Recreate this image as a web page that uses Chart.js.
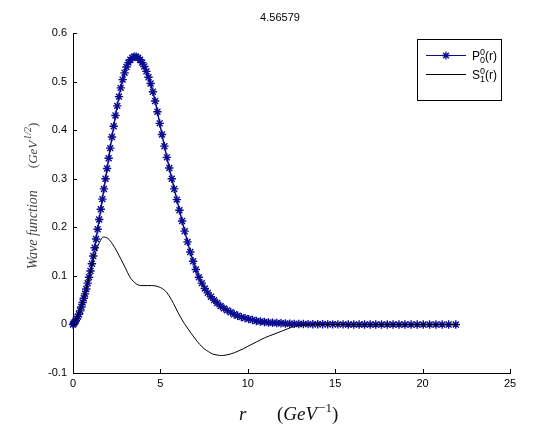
<!DOCTYPE html>
<html>
<head>
<meta charset="utf-8">
<script src="https://cdn.jsdelivr.net/npm/chart.js@4.4.0/dist/chart.umd.min.js"></script>
<style>
  html, body { margin: 0; padding: 0; background: #fff; }
  #wrap { width: 544px; height: 446px; }
</style>
</head>
<body>
<div id="wrap"><canvas id="waveChart" width="544" height="446"></canvas></div>
<script>
// r grid of the P wave function (markers)
const rP = [
    0, 0.05, 0.1, 0.16, 0.22, 0.28, 0.34, 0.41, 0.48, 0.55, 0.62, 0.69, 0.76, 0.84, 0.92, 1.0,
    1.08, 1.16, 1.24, 1.32, 1.41, 1.5, 1.59, 1.68, 1.77, 1.86, 1.95, 2.04,
    2.13, 2.23, 2.33, 2.43, 2.53, 2.63, 2.73, 2.84, 2.95, 3.06, 3.17, 3.28, 3.39, 3.5, 3.61,
    3.72, 3.84, 3.96, 4.08, 4.2, 4.32, 4.44, 4.57, 4.7, 4.83, 4.96, 5.09, 5.23, 5.37, 5.51,
    5.65, 5.79, 5.94, 6.09, 6.24, 6.39, 6.55, 6.71, 6.87, 7.03, 7.2, 7.37, 7.54, 7.71, 7.89,
    8.07, 8.25, 8.44, 8.63, 8.82, 9.02, 9.22, 9.42, 9.63, 9.84, 10.05, 10.27, 10.49, 10.72, 10.95,
    11.18, 11.42, 11.66, 11.9, 12.15, 12.4, 12.66, 12.92, 13.18, 13.45, 13.72, 14.0, 14.28, 14.57, 14.86,
    15.15, 15.45, 15.75, 16.06, 16.37, 16.68, 17.0, 17.32, 17.65, 17.98, 18.31, 18.65, 18.99, 19.34, 19.69,
    20.04, 20.4, 20.76, 21.12, 21.49, 21.9
];
const pValues = [
    0, 0.002, 0.005, 0.008, 0.012, 0.016, 0.021, 0.028, 0.036, 0.045, 0.054, 0.063, 0.073, 0.085, 0.097, 0.11,
    0.125, 0.141, 0.158, 0.176, 0.196, 0.216, 0.237, 0.258, 0.279, 0.3, 0.321, 0.342,
    0.363, 0.386, 0.408, 0.43, 0.45, 0.469, 0.487, 0.504, 0.518, 0.53, 0.539, 0.545, 0.549, 0.551, 0.551,
    0.549, 0.545, 0.539, 0.531, 0.521, 0.509, 0.496, 0.479, 0.46, 0.438, 0.414, 0.391, 0.367, 0.344, 0.322,
    0.3, 0.279, 0.257, 0.235, 0.213, 0.192, 0.17, 0.149, 0.13, 0.113, 0.097, 0.085, 0.074, 0.065, 0.057,
    0.05, 0.044, 0.038, 0.033, 0.029, 0.025, 0.021, 0.018, 0.015, 0.013, 0.011, 0.009, 0.007, 0.006, 0.005,
    0.004, 0.0035, 0.003, 0.0025, 0.002, 0.0015, 0.0012, 0.001, 0.0008, 0.0006, 0.0005, 0.0004, 0.0003, 0.0002, 0.0002,
    0.0001, 0.0001, 0, 0, 0, 0, 0, 0, 0, 0, 0, 0, 0, 0, 0,
    0, 0, 0, 0, 0, 0
];

// r grid of the S wave function (plain line)
const rS = [
    0, 0.25, 0.5, 0.75, 1.0, 1.25, 1.5, 1.75, 2.0, 2.25, 2.5, 2.75, 3.0, 3.25, 3.5, 3.75,
    4.0, 4.25, 4.5, 4.75, 5.0, 5.25, 5.5, 5.75, 6.0, 6.25, 6.5, 6.75, 7.0, 7.25, 7.5, 7.75,
    8.0, 8.25, 8.5, 8.75, 9.0, 9.25, 9.5, 9.75, 10.0, 10.5, 11.0, 11.5, 12.0, 12.5, 13.0, 13.5,
    14.0, 16.0, 18.0, 20.0, 22.0
];
const sValues = [
    0, 0.016, 0.041, 0.072, 0.108, 0.143, 0.168, 0.18, 0.177, 0.166, 0.151, 0.134, 0.116, 0.098, 0.087, 0.081,
    0.08, 0.08, 0.08, 0.079, 0.076, 0.07, 0.059, 0.043, 0.025, 0.009, -0.005, -0.018, -0.03, -0.041, -0.05, -0.056,
    -0.061, -0.063, -0.064, -0.063, -0.061, -0.058, -0.054, -0.05, -0.045, -0.036, -0.027, -0.02, -0.013, -0.006, -0.002, -0.001,
    0, 0, 0, 0, 0
];

const xTicks = [0, 5, 10, 15, 20, 25];
const yTicks = [-0.1, 0, 0.1, 0.2, 0.3, 0.4, 0.5, 0.6];
const titleText = '4.56579';

const blue = '#0c0c90';
const sansFont = '"Liberation Sans", Arial, sans-serif';
const serifFont = '"Liberation Serif", "Times New Roman", serif';

// draws a row of text pieces (for super/subscripts), returns end x
function drawParts(ctx, parts, x, y) {
    let cx = x;
    parts.forEach(function(p) {
        ctx.font = p.font;
        ctx.fillText(p.text, cx, y + (p.dy || 0));
        if (!p.noAdvance) cx += ctx.measureText(p.text).width + (p.gap || 0);
    });
    return cx;
}

function partsWidth(ctx, parts) {
    let w = 0;
    parts.forEach(function(p) {
        ctx.font = p.font;
        if (!p.noAdvance) w += ctx.measureText(p.text).width + (p.gap || 0);
    });
    return w;
}

function drawStar(ctx, x, y, r) {
    ctx.beginPath();
    ctx.moveTo(x - r, y); ctx.lineTo(x + r, y);
    ctx.moveTo(x, y - r); ctx.lineTo(x, y + r);
    const d = r * 0.7071;
    ctx.moveTo(x - d, y - d); ctx.lineTo(x + d, y + d);
    ctx.moveTo(x - d, y + d); ctx.lineTo(x + d, y - d);
    ctx.stroke();
}

// title, inward ticks, axis labels and legend
const decorPlugin = {
    id: 'decor',
    afterDraw(chart) {
        const ctx = chart.ctx;
        const area = chart.chartArea;
        const xs = chart.scales.x, ys = chart.scales.y;
        ctx.save();

        // inward tick marks
        ctx.strokeStyle = '#000';
        ctx.lineWidth = 1;
        ctx.beginPath();
        xTicks.forEach(function(v) {
            const px = Math.round(xs.getPixelForValue(v)) + 0.5;
            ctx.moveTo(px, area.bottom);
            ctx.lineTo(px, area.bottom - 4);
        });
        yTicks.forEach(function(v) {
            const py = Math.round(ys.getPixelForValue(v)) + 0.5;
            ctx.moveTo(area.left, py);
            ctx.lineTo(area.left + 4, py);
        });
        ctx.stroke();

        // title
        ctx.fillStyle = '#000';
        ctx.textAlign = 'center';
        ctx.textBaseline = 'alphabetic';
        ctx.font = '11px ' + sansFont;
        ctx.fillText(titleText, 280, 21);
        ctx.textAlign = 'left';

        // x axis label
        const it18 = 'italic 19px ' + serifFont;
        const up18 = '19px ' + serifFont;
        const sup = '13px ' + serifFont;
        ctx.fillStyle = '#111';
        drawParts(ctx, [{ text: 'r', font: it18 }], 239, 420);
        drawParts(ctx, [
            { text: '(', font: up18 },
            { text: 'GeV', font: it18, gap: 1 },
            { text: '\u22121', font: sup, dy: -8 },
            { text: ')', font: up18 }
        ], 277, 420);

        // y axis label (rotated)
        ctx.save();
        ctx.translate(37, 196);
        ctx.rotate(-Math.PI / 2);
        ctx.fillStyle = '#444';
        const yParts = [
            { text: 'Wave function', font: 'italic 14px ' + serifFont, gap: 22 },
            { text: '(', font: '13px ' + serifFont },
            { text: 'GeV', font: 'italic 13px ' + serifFont, gap: 1 },
            { text: '1/2', font: 'italic 10px ' + serifFont, dy: -6 },
            { text: ')', font: '13px ' + serifFont }
        ];
        const yw = partsWidth(ctx, yParts);
        drawParts(ctx, yParts, -yw / 2, 0);
        ctx.restore();

        // legend box
        const lx = 417.5, ly = 39.5, lw = 84, lh = 61;
        ctx.fillStyle = '#fff';
        ctx.fillRect(lx, ly, lw, lh);
        ctx.strokeStyle = '#000';
        ctx.strokeRect(lx, ly, lw, lh);

        // entry 1: P
        ctx.strokeStyle = blue;
        ctx.lineWidth = 1;
        ctx.beginPath();
        ctx.moveTo(426, 55.5); ctx.lineTo(466, 55.5);
        ctx.stroke();
        ctx.lineWidth = 1.3;
        drawStar(ctx, 446, 55.5, 4);
        ctx.lineWidth = 1;
        ctx.fillStyle = '#000';
        const lf = '12px ' + sansFont;
        const sf = '9px ' + sansFont;
        drawParts(ctx, [
            { text: 'P', font: lf },
            { text: '0', font: sf, dy: -5, noAdvance: true },
            { text: '0', font: sf, dy: 3 },
            { text: '(r)', font: lf }
        ], 472, 60);

        // entry 2: S
        ctx.strokeStyle = '#000';
        ctx.beginPath();
        ctx.moveTo(426, 74.5); ctx.lineTo(466, 74.5);
        ctx.stroke();
        drawParts(ctx, [
            { text: 'S', font: lf },
            { text: '0', font: sf, dy: -5, noAdvance: true },
            { text: '1', font: sf, dy: 3 },
            { text: '(r)', font: lf }
        ], 472, 79);

        ctx.restore();
    }
};

const ctx = document.getElementById('waveChart').getContext('2d');
new Chart(ctx, {
    type: 'line',
    data: {
        datasets: [{
            label: 'P',
            data: rP.map(function(r, i) { return { x: r, y: pValues[i] }; }),
            borderColor: blue,
            backgroundColor: blue,
            borderWidth: 1.5,
            pointStyle: 'star',
            pointRadius: 4.2,
            pointBorderWidth: 1.4,
            pointBorderColor: blue,
            tension: 0,
            clip: false,
            order: 2
        }, {
            label: 'S',
            data: rS.map(function(r, i) { return { x: r, y: sValues[i] }; }),
            borderColor: '#000',
            borderWidth: 1,
            pointRadius: 0,
            cubicInterpolationMode: 'monotone',
            clip: false,
            order: 1
        }]
    },
    options: {
        responsive: false,
        animation: false,
        devicePixelRatio: 1,
        layout: { padding: { top: 33, right: 34, left: 0, bottom: 0 } },
        plugins: {
            legend: { display: false },
            title: { display: false },
            tooltip: { enabled: false }
        },
        scales: {
            x: {
                type: 'linear',
                min: 0,
                max: 25,
                afterBuildTicks: function(scale) { scale.ticks = xTicks.map(function(v) { return { value: v }; }); },
                afterFit: function(scale) { scale.height = 73; },
                ticks: { color: '#000', font: { size: 11, family: sansFont }, padding: 4, maxRotation: 0 },
                grid: { drawOnChartArea: false, drawTicks: false },
                border: { display: true, color: '#000', width: 1 }
            },
            y: {
                min: -0.1,
                max: 0.6,
                afterBuildTicks: function(scale) { scale.ticks = yTicks.map(function(v) { return { value: v }; }); },
                afterFit: function(scale) { scale.width = 73; },
                ticks: {
                    color: '#000',
                    font: { size: 11, family: sansFont },
                    padding: 6,
                    callback: function(v) { return v === 0 ? '0' : String(+v.toFixed(1)); }
                },
                grid: { drawOnChartArea: false, drawTicks: false },
                border: { display: true, color: '#000', width: 1 }
            }
        }
    },
    plugins: [decorPlugin]
});
</script>
</body>
</html>
